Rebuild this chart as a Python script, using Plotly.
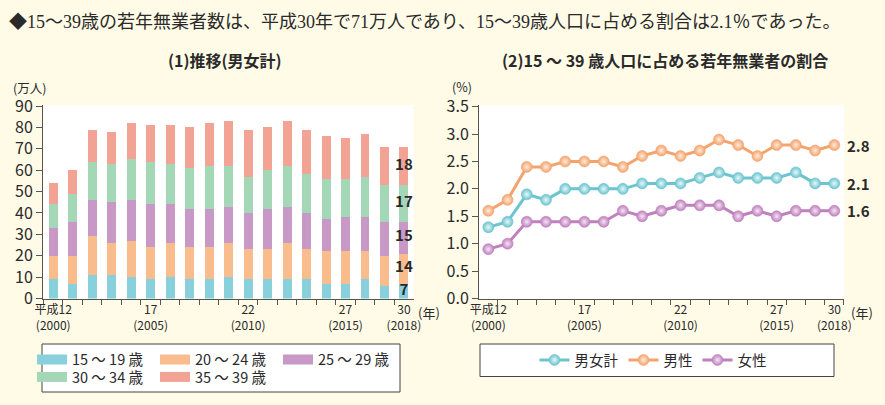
import numpy as np
import plotly.graph_objects as go

W, H = 885, 405

# ---------------- data ----------------
years = list(range(2000, 2019))
x_idx = list(range(len(years)))
tick_idx = [0, 5, 10, 15, 18]
tick_text = ["平成12<br>(2000)", "17<br>(2005)", "22<br>(2010)", "27<br>(2015)", "30<br>(2018)"]

age_names = ["15 ～ 19 歳", "20 ～ 24 歳", "25 ～ 29 歳", "30 ～ 34 歳", "35 ～ 39 歳"]
age_15_19 = [9, 7, 11, 11, 10, 9, 10, 9, 9, 10, 9, 9, 9, 9, 7, 7, 9, 6, 7]
age_20_24 = [11, 13, 18, 15, 17, 15, 16, 15, 15, 16, 14, 14, 17, 14, 15, 15, 13, 14, 14]
age_25_29 = [13, 16, 17, 19, 19, 20, 18, 18, 18, 17, 17, 19, 17, 17, 15, 16, 16, 16, 15]
age_30_34 = [11, 13, 18, 18, 19, 20, 19, 19, 20, 19, 17, 18, 19, 18, 19, 18, 19, 17, 17]
age_35_39 = [10, 11, 15, 15, 17, 17, 18, 19, 20, 21, 22, 20, 21, 21, 20, 19, 20, 18, 18]

rate_names = ["男女計", "男性", "女性"]
rate_total = [1.3, 1.4, 1.9, 1.8, 2.0, 2.0, 2.0, 2.0, 2.1, 2.1, 2.1, 2.2, 2.3, 2.2, 2.2, 2.2, 2.3, 2.1, 2.1]
rate_male = [1.6, 1.8, 2.4, 2.4, 2.5, 2.5, 2.5, 2.4, 2.6, 2.7, 2.6, 2.7, 2.9, 2.8, 2.6, 2.8, 2.8, 2.7, 2.8]
rate_female = [0.9, 1.0, 1.4, 1.4, 1.4, 1.4, 1.4, 1.6, 1.5, 1.6, 1.7, 1.7, 1.7, 1.5, 1.6, 1.5, 1.6, 1.6, 1.6]

# ---------------- styles ----------------
bar_colors = ["#88D0DC", "#F9BC8C", "#C898C7", "#A3D7B6", "#F3A393"]
line_colors = ["#6CC4CF", "#F3A46E", "#BF80BE"]
marker_light = ["#E6F7F9", "#FFEBDC", "#F5E4F4"]

JP = "Noto Sans CJK JP"
TXT = "#2a2a2a"

def px(x):
    return x / W

def py(y):
    return 1 - y / H

fig = go.Figure()

series = [age_15_19, age_20_24, age_25_29, age_30_34, age_35_39]
for i, (name, vals, col) in enumerate(zip(age_names, series, bar_colors)):
    fig.add_trace(go.Bar(
        x=x_idx, y=vals, name=name, width=0.46,
        marker=dict(color=col, line=dict(width=0)),
        showlegend=False, xaxis="x", yaxis="y",
    ))
    # legend swatch
    fig.add_trace(go.Scatter(
        x=[None], y=[None], mode="lines", name=name,
        line=dict(color=col, width=11),
        legend="legend" if i < 3 else "legend3",
        xaxis="x", yaxis="y",
    ))

# labels on last bar
last_vals = np.array([s[-1] for s in series])
mids = np.cumsum(last_vals) - last_vals / 2
fig.add_trace(go.Scatter(
    x=[x_idx[-1]] * len(last_vals), y=mids, mode="text",
    text=[str(v) for v in last_vals],
    textfont=dict(family=JP, size=15, color=TXT, weight="bold"),
    showlegend=False, cliponaxis=False, xaxis="x", yaxis="y",
))

rates = [rate_total, rate_male, rate_female]
for name, vals, col, light in zip(rate_names, rates, line_colors, marker_light):
    fig.add_trace(go.Scatter(
        x=x_idx, y=vals, name=name, mode="lines+markers",
        line=dict(color=col, width=3),
        marker=dict(size=11, color=col, gradient=dict(type="radial", color=light),
                    line=dict(color=col, width=0.6)),
        legend="legend2", xaxis="x2", yaxis="y2", cliponaxis=False,
    ))

annotations = []
for vals in rates:
    annotations.append(dict(
        x=x_idx[-1], y=vals[-1], xref="x2", yref="y2", text=f"{vals[-1]:.1f}",
        xanchor="left", yanchor="middle", xshift=11, showarrow=False,
        font=dict(family=JP, size=15, color=TXT, weight="bold"),
    ))

annotations += [
    dict(x=px(7), y=py(22), xref="paper", yref="paper", xanchor="left", yanchor="middle",
         text="◆15～39歳の若年無業者数は、平成30年で71万人であり、15～39歳人口に占める割合は2.1％であった。",
         showarrow=False, font=dict(family="Liberation Serif, " + JP, size=18, color=TXT)),
    dict(x=px(225), y=py(60), xref="paper", yref="paper", xanchor="center", yanchor="middle",
         text="(1)推移(男女計)", showarrow=False,
         font=dict(family=JP, size=16, color=TXT, weight="bold")),
    dict(x=px(664.5), y=py(60), xref="paper", yref="paper", xanchor="center", yanchor="middle",
         text="(2)15 ～ 39 歳人口に占める若年無業者の割合", showarrow=False,
         font=dict(family=JP, size=16, color=TXT, weight="bold")),
    dict(x=px(29), y=py(88), xref="paper", yref="paper", xanchor="center", yanchor="middle",
         text="(万人)", showarrow=False, font=dict(family=JP, size=12.5, color=TXT)),
    dict(x=px(462), y=py(87), xref="paper", yref="paper", xanchor="center", yanchor="middle",
         text="(%)", showarrow=False, font=dict(family=JP, size=12.5, color=TXT)),
    dict(x=px(429), y=py(312), xref="paper", yref="paper", xanchor="center", yanchor="middle",
         text="(年)", showarrow=False, font=dict(family=JP, size=13, color=TXT)),
    dict(x=px(862), y=py(312), xref="paper", yref="paper", xanchor="center", yanchor="middle",
         text="(年)", showarrow=False, font=dict(family=JP, size=13, color=TXT)),
]

shapes = [
    dict(type="rect", xref="paper", yref="paper", x0=px(42), x1=px(400), y0=py(344), y1=py(392),
         fillcolor="white", line=dict(color="#444", width=1), layer="below"),
    dict(type="rect", xref="paper", yref="paper", x0=px(480), x1=px(834), y0=py(344), y1=py(376.5),
         fillcolor="white", line=dict(color="#444", width=1), layer="below"),
]

y_dom = [py(298.5), py(105)]
axis_common = dict(showgrid=False, zeroline=False, showline=True, linecolor="#555", linewidth=1.3,
                   tickcolor="#555", fixedrange=True, automargin=False)
xtickfont = dict(family=JP, size=12, color=TXT)
ytickfont = dict(family=JP, size=16, color=TXT)
legfont = dict(family=JP, size=14.5, color=TXT)

fig.update_layout(
    width=W, height=H, margin=dict(l=0, r=0, t=0, b=0, pad=0, autoexpand=False),
    paper_bgcolor="#FFFBE6", plot_bgcolor="white",
    barmode="stack", bargap=0,
    annotations=annotations, shapes=shapes,
    xaxis=dict(domain=[px(43.3), px(413.5)], range=[-0.51, 18.49], anchor="y",
               tickmode="array", tickvals=tick_idx, ticktext=tick_text, ticks="",
               tickfont=xtickfont,
               minor=dict(tickmode="linear", tick0=0.5, dtick=1, ticks="outside", ticklen=5,
                          tickcolor="#555", showgrid=False),
               **axis_common),
    yaxis=dict(domain=y_dom, range=[0, 90.47], anchor="x", tickvals=list(range(0, 91, 10)),
               ticks="outside", ticklen=6, tickfont=ytickfont, **axis_common),
    xaxis2=dict(domain=[px(479.3), px(844.3)], range=[-0.47, 18.52], anchor="y2",
                tickmode="array", tickvals=tick_idx, ticktext=tick_text, ticks="",
                tickfont=xtickfont,
                minor=dict(tickmode="linear", tick0=0.5, dtick=1, ticks="outside", ticklen=5,
                           tickcolor="#555", showgrid=False),
                **axis_common),
    yaxis2=dict(domain=y_dom, range=[0, 3.53], anchor="x2", tickvals=[0, 0.5, 1, 1.5, 2, 2.5, 3, 3.5],
                tickformat=".1f", ticks="outside", ticklen=6, tickfont=ytickfont, **axis_common),
    legend=dict(orientation="h", x=px(32), y=py(359.5), xanchor="left", yanchor="middle",
                traceorder="normal", bgcolor="rgba(0,0,0,0)", entrywidth=78, font=legfont),
    legend3=dict(orientation="h", x=px(32), y=py(377), xanchor="left", yanchor="middle",
                 traceorder="normal", bgcolor="rgba(0,0,0,0)", entrywidth=78, font=legfont),
    legend2=dict(orientation="h", x=px(653), y=py(360), xanchor="center", yanchor="middle",
                 traceorder="normal", bgcolor="rgba(0,0,0,0)", font=legfont),
)

fig.write_html(
    "out.html",
    config={"displayModeBar": False, "staticPlot": True},
    post_script="document.body.style.margin='0';document.body.style.padding='0';"
                "document.documentElement.style.overflow='hidden';",
)
